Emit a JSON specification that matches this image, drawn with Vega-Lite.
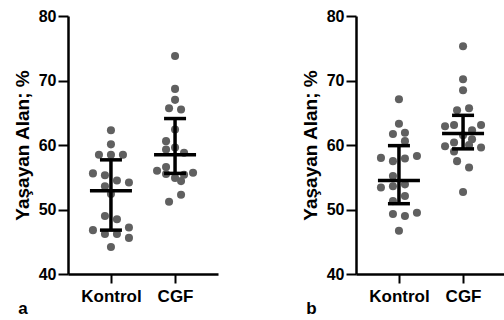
{
  "$schema": "https://vega.github.io/schema/vega-lite/v6.json",
  "background": "white",
  "padding": {"left": 13, "top": 8, "right": 0, "bottom": 0},
  "spacing": 83,
  "config": {
    "font": "Liberation Sans",
    "view": {"stroke": null},
    "axis": {
      "domainColor": "black", "domainWidth": 2.5, "tickColor": "black", "tickWidth": 2,
      "labelColor": "black", "labelFont": "Liberation Sans", "labelFontWeight": "bold",
      "titleColor": "black", "titleFont": "Liberation Sans", "titleFontWeight": "bold",
      "grid": false
    },
    "title": {"font": "Liberation Sans", "fontWeight": "bold", "fontSize": 17, "color": "black"}
  },
  "datasets": {
    "pts_a": [
      {"group": "Kontrol", "value": 62.3, "jitter": 0},
      {"group": "Kontrol", "value": 60.1, "jitter": 0},
      {"group": "Kontrol", "value": 58.5, "jitter": -2},
      {"group": "Kontrol", "value": 58.5, "jitter": 0},
      {"group": "Kontrol", "value": 58.5, "jitter": 2},
      {"group": "Kontrol", "value": 55.6, "jitter": -3},
      {"group": "Kontrol", "value": 55.3, "jitter": -1},
      {"group": "Kontrol", "value": 54.5, "jitter": 1},
      {"group": "Kontrol", "value": 54.2, "jitter": 3},
      {"group": "Kontrol", "value": 53.6, "jitter": -1},
      {"group": "Kontrol", "value": 52.4, "jitter": 0},
      {"group": "Kontrol", "value": 49.0, "jitter": -1},
      {"group": "Kontrol", "value": 48.5, "jitter": 1},
      {"group": "Kontrol", "value": 46.8, "jitter": -3},
      {"group": "Kontrol", "value": 46.2, "jitter": -1},
      {"group": "Kontrol", "value": 46.2, "jitter": 1},
      {"group": "Kontrol", "value": 47.2, "jitter": 3},
      {"group": "Kontrol", "value": 45.6, "jitter": 3},
      {"group": "Kontrol", "value": 44.2, "jitter": 0},
      {"group": "CGF", "value": 73.8, "jitter": 0},
      {"group": "CGF", "value": 68.7, "jitter": 0},
      {"group": "CGF", "value": 67.0, "jitter": 0},
      {"group": "CGF", "value": 65.7, "jitter": -1},
      {"group": "CGF", "value": 65.5, "jitter": 1},
      {"group": "CGF", "value": 62.4, "jitter": 0},
      {"group": "CGF", "value": 60.6, "jitter": -1.5},
      {"group": "CGF", "value": 59.6, "jitter": 0},
      {"group": "CGF", "value": 59.3, "jitter": -1.5},
      {"group": "CGF", "value": 58.8, "jitter": 1.5},
      {"group": "CGF", "value": 56.0, "jitter": -3},
      {"group": "CGF", "value": 56.6, "jitter": -1.5},
      {"group": "CGF", "value": 55.5, "jitter": -1.5},
      {"group": "CGF", "value": 54.9, "jitter": 0},
      {"group": "CGF", "value": 55.4, "jitter": 1.5},
      {"group": "CGF", "value": 55.7, "jitter": 3},
      {"group": "CGF", "value": 54.4, "jitter": 1},
      {"group": "CGF", "value": 52.3, "jitter": 1},
      {"group": "CGF", "value": 51.2, "jitter": -1}
    ],
    "stats_a": [
      {"group": "Kontrol", "mid": 52.9, "lo": 46.8, "hi": 57.7},
      {"group": "CGF", "mid": 58.5, "lo": 55.6, "hi": 64.1}
    ],
    "pts_b": [
      {"group": "Kontrol", "value": 67.1, "jitter": 0},
      {"group": "Kontrol", "value": 63.3, "jitter": 0},
      {"group": "Kontrol", "value": 61.7, "jitter": -1},
      {"group": "Kontrol", "value": 61.9, "jitter": 1},
      {"group": "Kontrol", "value": 60.6, "jitter": 1},
      {"group": "Kontrol", "value": 58.0, "jitter": -3},
      {"group": "Kontrol", "value": 57.5, "jitter": -1},
      {"group": "Kontrol", "value": 57.9, "jitter": 1},
      {"group": "Kontrol", "value": 58.3, "jitter": 3},
      {"group": "Kontrol", "value": 55.2, "jitter": -1},
      {"group": "Kontrol", "value": 53.4, "jitter": -3},
      {"group": "Kontrol", "value": 53.6, "jitter": -1},
      {"group": "Kontrol", "value": 53.9, "jitter": 1},
      {"group": "Kontrol", "value": 52.1, "jitter": 1},
      {"group": "Kontrol", "value": 51.3, "jitter": -1},
      {"group": "Kontrol", "value": 49.3, "jitter": -1},
      {"group": "Kontrol", "value": 49.0, "jitter": 1},
      {"group": "Kontrol", "value": 49.5, "jitter": 3},
      {"group": "Kontrol", "value": 46.7, "jitter": 0},
      {"group": "CGF", "value": 75.3, "jitter": 0},
      {"group": "CGF", "value": 70.2, "jitter": 0},
      {"group": "CGF", "value": 68.5, "jitter": 0},
      {"group": "CGF", "value": 65.4, "jitter": -1},
      {"group": "CGF", "value": 65.7, "jitter": 1},
      {"group": "CGF", "value": 62.9, "jitter": -3},
      {"group": "CGF", "value": 63.1, "jitter": -1.5},
      {"group": "CGF", "value": 62.3, "jitter": 1.5},
      {"group": "CGF", "value": 63.1, "jitter": 3},
      {"group": "CGF", "value": 59.8, "jitter": -3},
      {"group": "CGF", "value": 60.4, "jitter": -1.5},
      {"group": "CGF", "value": 60.9, "jitter": 1.5},
      {"group": "CGF", "value": 59.6, "jitter": 3},
      {"group": "CGF", "value": 59.0, "jitter": -1.5},
      {"group": "CGF", "value": 57.5, "jitter": -1},
      {"group": "CGF", "value": 56.5, "jitter": 1},
      {"group": "CGF", "value": 52.7, "jitter": 0},
      {"group": "CGF", "value": 61.5, "jitter": 0},
      {"group": "CGF", "value": 60.0, "jitter": 1}
    ],
    "stats_b": [
      {"group": "Kontrol", "mid": 54.5, "lo": 50.9, "hi": 59.9},
      {"group": "CGF", "mid": 61.8, "lo": 59.4, "hi": 64.6}
    ]
  },
  "hconcat": [
    {
      "width": 150, "height": 258,
      "title": {"text": "a", "orient": "bottom", "anchor": "start", "frame": "bounds", "offset": -3, "dx": 5},
      "layer": [
        {
          "data": {"name": "pts_a"},
          "mark": {"type": "circle", "size": 65, "color": "#606060", "opacity": 1},
          "encoding": {
            "x": {"field": "group", "type": "nominal", "sort": ["Kontrol", "CGF"],
                  "scale": {"type": "point", "padding": 0.67},
                  "axis": {"title": null, "labelAngle": 0, "labelFontSize": 17, "tickSize": 9, "labelPadding": 5}},
            "xOffset": {"field": "jitter", "type": "quantitative", "scale": {"domain": [-3, 3], "range": [-18, 18]}},
            "y": {"field": "value", "type": "quantitative",
                  "scale": {"domain": [40, 80], "nice": false, "zero": false},
                  "axis": {"title": "Yaşayan Alan; %", "titleFontSize": 19, "values": [40, 50, 60, 70, 80],
                           "labelFontSize": 16, "tickSize": 10, "labelPadding": 2, "titlePadding": 6}}
          }
        },
        {
          "data": {"name": "stats_a"},
          "mark": {"type": "rule", "color": "black", "strokeWidth": 3.5},
          "encoding": {
            "x": {"field": "group", "type": "nominal", "sort": ["Kontrol", "CGF"]},
            "y": {"field": "lo", "type": "quantitative"},
            "y2": {"field": "hi"}
          }
        },
        {
          "data": {"name": "stats_a"},
          "mark": {"type": "tick", "color": "black", "thickness": 3.5, "size": 42, "opacity": 1},
          "encoding": {
            "x": {"field": "group", "type": "nominal", "sort": ["Kontrol", "CGF"]},
            "y": {"field": "mid", "type": "quantitative"}
          }
        },
        {
          "data": {"name": "stats_a"},
          "mark": {"type": "tick", "color": "black", "thickness": 3.5, "size": 22, "opacity": 1},
          "encoding": {
            "x": {"field": "group", "type": "nominal", "sort": ["Kontrol", "CGF"]},
            "y": {"field": "lo", "type": "quantitative"}
          }
        },
        {
          "data": {"name": "stats_a"},
          "mark": {"type": "tick", "color": "black", "thickness": 3.5, "size": 22, "opacity": 1},
          "encoding": {
            "x": {"field": "group", "type": "nominal", "sort": ["Kontrol", "CGF"]},
            "y": {"field": "hi", "type": "quantitative"}
          }
        }
      ]
    },
    {
      "width": 150, "height": 258,
      "title": {"text": "b", "orient": "bottom", "anchor": "start", "frame": "bounds", "offset": -3, "dx": 5},
      "layer": [
        {
          "data": {"name": "pts_b"},
          "mark": {"type": "circle", "size": 65, "color": "#606060", "opacity": 1},
          "encoding": {
            "x": {"field": "group", "type": "nominal", "sort": ["Kontrol", "CGF"],
                  "scale": {"type": "point", "padding": 0.67},
                  "axis": {"title": null, "labelAngle": 0, "labelFontSize": 17, "tickSize": 9, "labelPadding": 5}},
            "xOffset": {"field": "jitter", "type": "quantitative", "scale": {"domain": [-3, 3], "range": [-18, 18]}},
            "y": {"field": "value", "type": "quantitative",
                  "scale": {"domain": [40, 80], "nice": false, "zero": false},
                  "axis": {"title": "Yaşayan Alan; %", "titleFontSize": 19, "values": [40, 50, 60, 70, 80],
                           "labelFontSize": 16, "tickSize": 10, "labelPadding": 2, "titlePadding": 6}}
          }
        },
        {
          "data": {"name": "stats_b"},
          "mark": {"type": "rule", "color": "black", "strokeWidth": 3.5},
          "encoding": {
            "x": {"field": "group", "type": "nominal", "sort": ["Kontrol", "CGF"]},
            "y": {"field": "lo", "type": "quantitative"},
            "y2": {"field": "hi"}
          }
        },
        {
          "data": {"name": "stats_b"},
          "mark": {"type": "tick", "color": "black", "thickness": 3.5, "size": 42, "opacity": 1},
          "encoding": {
            "x": {"field": "group", "type": "nominal", "sort": ["Kontrol", "CGF"]},
            "y": {"field": "mid", "type": "quantitative"}
          }
        },
        {
          "data": {"name": "stats_b"},
          "mark": {"type": "tick", "color": "black", "thickness": 3.5, "size": 22, "opacity": 1},
          "encoding": {
            "x": {"field": "group", "type": "nominal", "sort": ["Kontrol", "CGF"]},
            "y": {"field": "lo", "type": "quantitative"}
          }
        },
        {
          "data": {"name": "stats_b"},
          "mark": {"type": "tick", "color": "black", "thickness": 3.5, "size": 22, "opacity": 1},
          "encoding": {
            "x": {"field": "group", "type": "nominal", "sort": ["Kontrol", "CGF"]},
            "y": {"field": "hi", "type": "quantitative"}
          }
        }
      ]
    }
  ]
}
